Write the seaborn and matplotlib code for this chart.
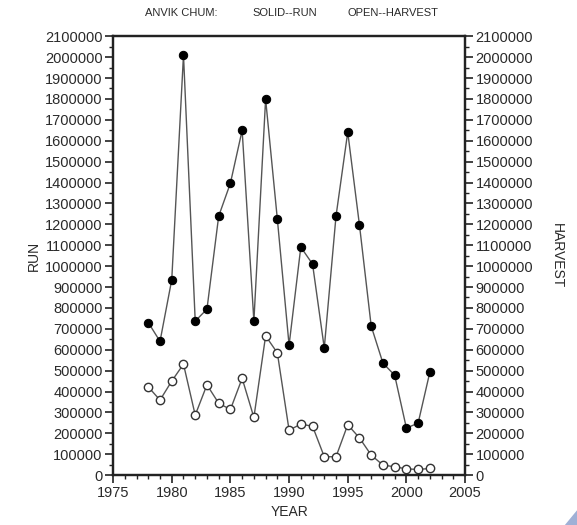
import numpy as np
import pandas as pd
import matplotlib
matplotlib.use("Agg")
import matplotlib.pyplot as plt
import seaborn as sns
from matplotlib.ticker import MultipleLocator, FuncFormatter

# ===============================
# DATA
# ===============================
years = list(range(1978, 2003))
run = [730000, 640000, 935000, 2010000, 737000, 794000, 1239000, 1397000,
       1650000, 737000, 1799000, 1225000, 622000, 1091000, 1010000, 608000,
       1239000, 1641000, 1196000, 713000, 536000, 478000, 225000, 249000, 493000]
harvest = [422000, 359000, 450000, 531000, 287000, 432000, 344000, 314000,
           463000, 276000, 666000, 585000, 215000, 244000, 234000, 88000,
           88000, 241000, 178000, 96000, 48000, 40000, 30000, 27000, 32000]

df = pd.DataFrame({"year": years, "run": run, "harvest": harvest})

# ===============================
# PLOT
# ===============================
sns.set_style("ticks")
plt.rcParams["font.family"] = ["Liberation Sans", "DejaVu Sans"]

fig = plt.figure(figsize=(5.77, 5.25), dpi=100)
ax = fig.add_axes([0.196, 0.095, 0.61, 0.836])

line_col = "#555555"
txt_col = "#2a2a2a"
sns.lineplot(data=df, x="year", y="run", ax=ax, color=line_col, lw=1.0,
             marker="o", markersize=6, markerfacecolor="black",
             markeredgecolor="black")
sns.lineplot(data=df, x="year", y="harvest", ax=ax, color=line_col, lw=1.0,
             marker="o", markersize=6, markerfacecolor="white",
             markeredgecolor="#333333", markeredgewidth=1.0)

ax.set_xlim(1975, 2005)
ax.set_ylim(0, 2100000)
ax.xaxis.set_major_locator(MultipleLocator(5))
ax.xaxis.set_minor_locator(MultipleLocator(1))
ax.yaxis.set_major_locator(MultipleLocator(100000))
ax.yaxis.set_minor_locator(MultipleLocator(50000))
fmt = FuncFormatter(lambda v, p: f"{int(round(v))}")
ax.yaxis.set_major_formatter(fmt)

ax2 = ax.twinx()
ax2.set_ylim(ax.get_ylim())
ax2.yaxis.set_major_locator(MultipleLocator(100000))
ax2.yaxis.set_minor_locator(MultipleLocator(50000))
ax2.yaxis.set_major_formatter(fmt)

for a in (ax, ax2):
    for s in a.spines.values():
        s.set_visible(True)
        s.set_color("#222222")
        s.set_linewidth(1.6)
    a.tick_params(which="major", length=5.5, width=1.2, labelsize=10.5,
                  colors="#222222", labelcolor=txt_col, direction="out", pad=2)
    a.tick_params(which="minor", length=3, width=1.0, direction="out",
                  colors="#222222")

ax.set_xlabel("YEAR", fontsize=10, color=txt_col, labelpad=4)
ax.set_ylabel("RUN", fontsize=10, color=txt_col, labelpad=3)
ax2.set_ylabel("HARVEST", fontsize=10, color=txt_col, rotation=-90,
               labelpad=22)

# header line
for xpos, label in [(0.251, "ANVIK CHUM:"), (0.437, "SOLID--RUN"),
                    (0.603, "OPEN--HARVEST")]:
    fig.text(xpos, 0.975, label, ha="left", va="center", fontsize=8,
             color=txt_col)

# corner decoration
fig.patches.append(plt.Polygon([[1.0, 0.0], [1.0, 0.028], [0.979, 0.0]],
                               closed=True, transform=fig.transFigure,
                               facecolor="#9fb0d6", edgecolor="none"))

fig.savefig("out.png", dpi=100)
